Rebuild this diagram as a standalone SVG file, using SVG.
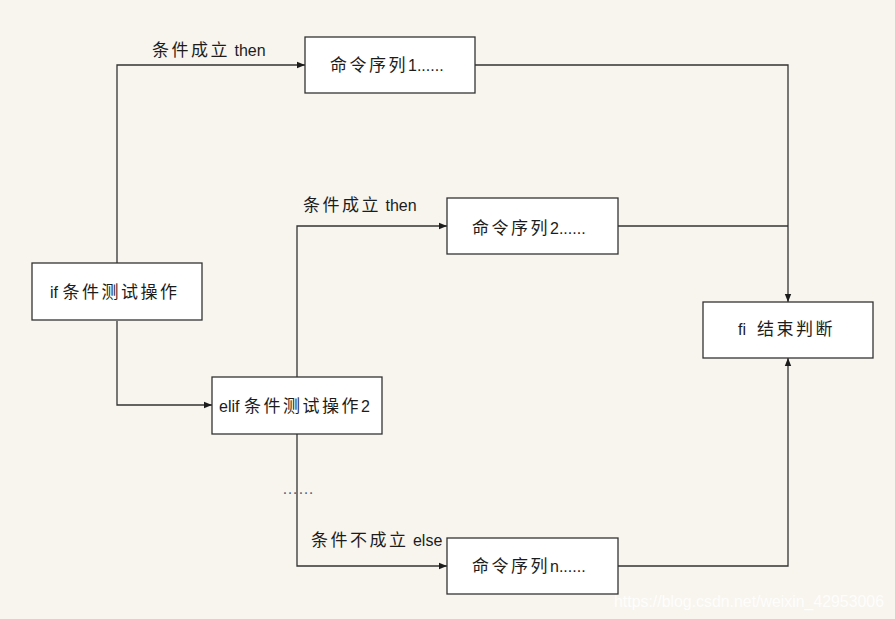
<svg xmlns="http://www.w3.org/2000/svg" width="895" height="619" viewBox="0 0 895 619">
<defs>
<style>
.box{fill:#ffffff;stroke:#333333;stroke-width:1.3}
.ln{fill:none;stroke:#333333;stroke-width:1.3}
.t{font-family:"Liberation Sans","Noto Sans CJK SC",sans-serif;fill:#1c1c1c}
.cj{font-size:17px;letter-spacing:2.5px}
.la{font-size:16px}
.wm{font-family:"Liberation Sans",sans-serif;font-size:16px;fill:#ffffff;fill-opacity:0.85}
</style>
<marker id="ah" viewBox="0 0 8 8" refX="8" refY="4" markerWidth="8" markerHeight="8" markerUnits="userSpaceOnUse" orient="auto">
<path d="M0,0.8 L8,4 L0,7.2 Z" fill="#1c1c1c"/>
</marker>
</defs>
<rect width="895" height="619" fill="#f8f5ef"/>
<g id="connectors">
<path class="ln" d="M117,263 V65 H305" marker-end="url(#ah)"/>
<path class="ln" d="M117,321 V405 H212" marker-end="url(#ah)"/>
<path class="ln" d="M297,377 V226 H447" marker-end="url(#ah)"/>
<path class="ln" d="M297,434 V566 H447" marker-end="url(#ah)"/>
<path class="ln" d="M475,65 H788 V302" marker-end="url(#ah)"/>
<path class="ln" d="M618,226 H788"/>
<path class="ln" d="M618,566 H788 V358" marker-end="url(#ah)"/>
<text class="t" x="152" y="56"><tspan class="cj">条件成立</tspan><tspan class="la"> then</tspan></text>
<text class="t" x="303" y="211"><tspan class="cj">条件成立</tspan><tspan class="la"> then</tspan></text>
<text class="t" x="311" y="546"><tspan class="cj">条件不成立</tspan><tspan class="la"> else</tspan></text>
<text class="t la" x="282" y="494" style="fill:#4f6680">……</text>
</g>
<g id="node-cmd1">
<rect class="box" x="305" y="37" width="170" height="56"/>
<text class="t" x="330" y="71"><tspan class="cj">命令序列</tspan><tspan class="la">1......</tspan></text>
</g>
<g id="node-cmd2">
<rect class="box" x="447" y="198" width="171" height="56"/>
<text class="t" x="472" y="234"><tspan class="cj">命令序列</tspan><tspan class="la">2......</tspan></text>
</g>
<g id="node-if">
<rect class="box" x="32" y="263" width="170" height="57"/>
<text class="t" x="50" y="298"><tspan class="la">if </tspan><tspan class="cj">条件测试操作</tspan></text>
</g>
<g id="node-elif">
<rect class="box" x="212" y="377" width="170" height="57"/>
<text class="t" x="219" y="412"><tspan class="la">elif </tspan><tspan class="cj">条件测试操作</tspan><tspan class="la">2</tspan></text>
</g>
<g id="node-fi">
<rect class="box" x="703" y="302" width="170" height="56"/>
<text class="t" x="738" y="335"><tspan class="la">fi</tspan><tspan class="cj" x="757">结束判断</tspan></text>
</g>
<g id="node-cmdn">
<rect class="box" x="447" y="538" width="171" height="56"/>
<text class="t" x="472" y="572"><tspan class="cj">命令序列</tspan><tspan class="la">n......</tspan></text>
</g>
<text class="wm" x="614" y="607" textLength="270" lengthAdjust="spacingAndGlyphs">https://blog.csdn.net/weixin_42953006</text>
</svg>
